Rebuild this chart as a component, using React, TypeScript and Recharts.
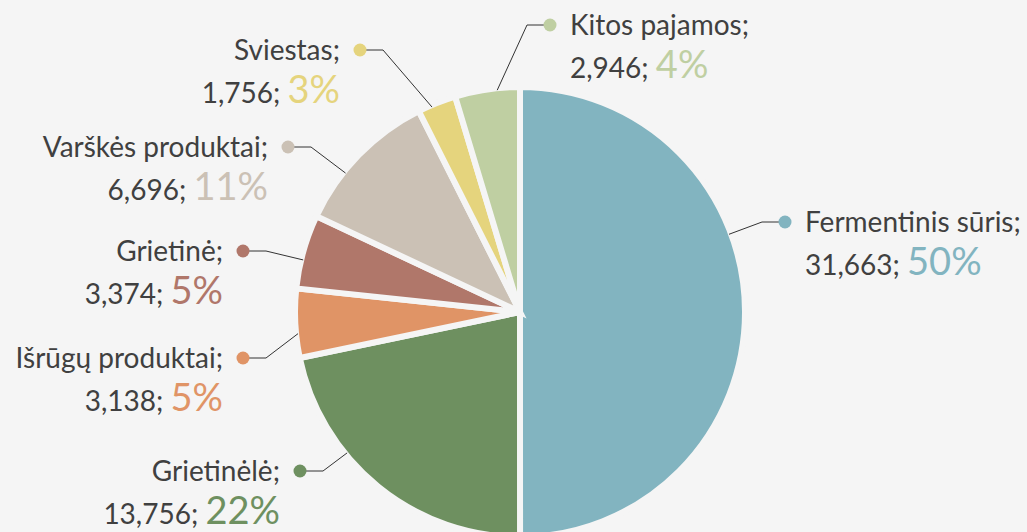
import React from 'react';
import { PieChart, Pie, Cell } from 'recharts';

const categories = ['Fermentinis sūris', 'Grietinėlė', 'Išrūgų produktai', 'Grietinė', 'Varškės produktai', 'Sviestas', 'Kitos pajamos'];
const values = [31663, 13756, 3138, 3374, 6696, 1756, 2946];
const shares = [50, 22, 5, 5, 11, 3, 4];

const colors = ['#82b4c0', '#6e9060', '#e09466', '#b0776a', '#cbc1b5', '#e5d47d', '#bfcfa2'];
// where each label's dot sits, relative to the pie centre
const labelSpots = [[265, -90], [-220, 159], [-277, 46], [-277, -61], [-232, -165], [-160, -262], [30, -287]];

const data = categories.map((name, i) => ({ name, value: values[i], share: shares[i] }));

const FONT = 'Lato, "Open Sans", sans-serif';

const renderLabel = (props: any) => {
  const { cx, cy, outerRadius, startAngle, endAngle, index } = props;
  const [dx, dy] = labelSpots[index];
  const dotX = cx + dx;
  const dotY = cy + dy;
  const right = dx > 0;
  const elbowX = right ? dotX - 23 : dotX + 23;

  // connector touches the slice in the direction of the elbow, kept inside the slice
  const lo = Math.min(startAngle, endAngle);
  const hi = Math.max(startAngle, endAngle);
  const mid = (lo + hi) / 2;
  let a = (Math.atan2(-(dotY - cy), elbowX - cx) * 180) / Math.PI;
  while (a < mid - 180) a += 360;
  while (a > mid + 180) a -= 360;
  const pad = (hi - lo) * 0.35;
  a = Math.max(lo + pad, Math.min(hi - pad, a));
  const rad = (a * Math.PI) / 180;
  const sx = cx + (outerRadius - 2) * Math.cos(rad);
  const sy = cy - (outerRadius - 2) * Math.sin(rad);

  const tx = right ? dotX + 20 : dotX - 20;
  const anchor = right ? 'start' : 'end';

  return (
    <g key={`lbl-${index}`}>
      <polyline points={`${sx},${sy} ${elbowX},${dotY} ${dotX},${dotY}`} fill="none" stroke="#333" strokeWidth={1} />
      <circle cx={dotX} cy={dotY} r={6.5} fill={colors[index]} />
      <text x={tx} y={dotY + 10} textAnchor={anchor} fontFamily={FONT} fontSize={28} fill="#404040">
        {categories[index]};
      </text>
      <text x={tx} y={dotY + 53} textAnchor={anchor} fontFamily={FONT} fontSize={28} fill="#404040">
        {values[index].toLocaleString('en-US')};{' '}
        <tspan fill={colors[index]} fontSize={38}>
          {shares[index]}%
        </tspan>
      </text>
    </g>
  );
};

export default function App() {
  return (
    <div style={{ position: 'fixed', left: 0, top: 0, width: 1027, height: 532, background: '#f5f5f5' }}>
      <PieChart width={1027} height={532} margin={{ top: 0, right: 0, bottom: 0, left: 0 }}>
        <Pie
          data={data}
          dataKey="value"
          nameKey="name"
          cx={520}
          cy={312}
          outerRadius={225}
          startAngle={90}
          endAngle={-270}
          stroke="#f5f5f5"
          strokeWidth={6}
          label={renderLabel}
          labelLine={false}
          isAnimationActive={false}
        >
          {data.map((d, i) => (
            <Cell key={d.name} fill={colors[i]} />
          ))}
        </Pie>
      </PieChart>
    </div>
  );
}
